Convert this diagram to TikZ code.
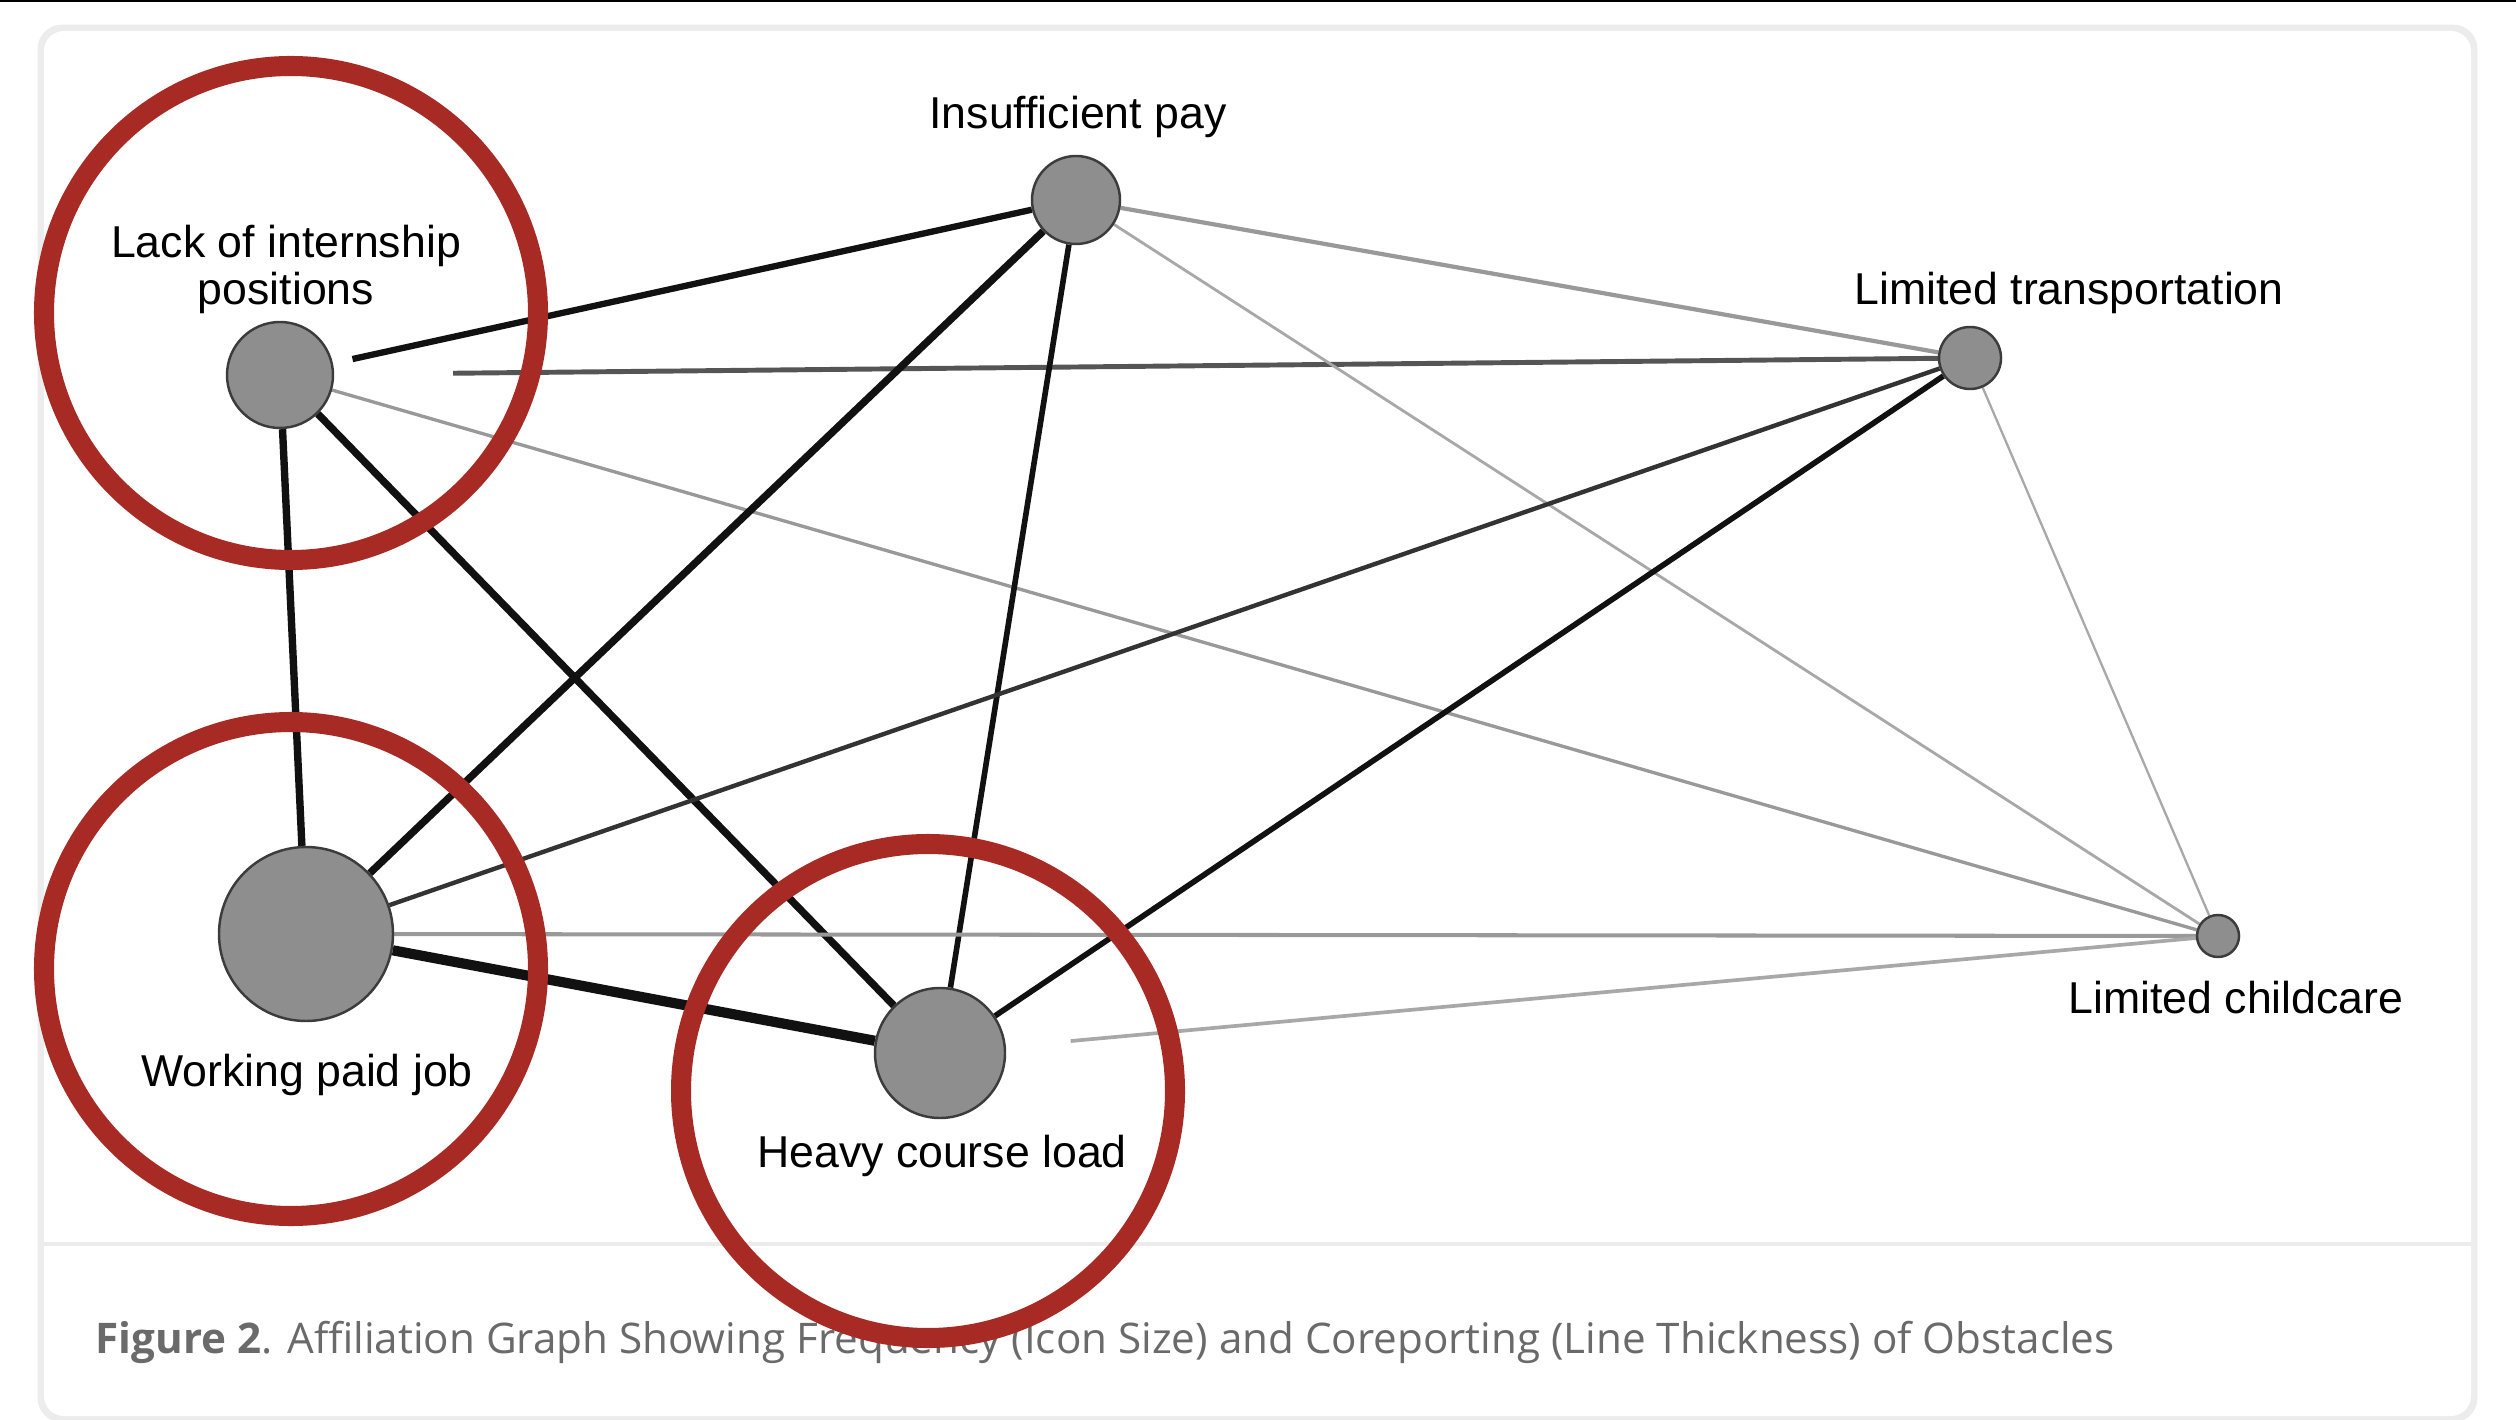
\documentclass[tikz,border=0pt]{standalone}
\usepackage{fontspec}
\setmainfont{Liberation Sans}
\newfontfamily\capfont{Open Sans}
\definecolor{nodegray}{HTML}{8E8E8E}
\definecolor{nodeedge}{HTML}{3C3C3C}
\definecolor{edgeblack}{HTML}{111111}
\definecolor{edgedark}{HTML}{555555}
\definecolor{edgemid}{HTML}{333333}
\definecolor{edgegray}{HTML}{999999}
\definecolor{edgelight}{HTML}{A8A8A8}
\definecolor{ringred}{HTML}{A82A25}
\definecolor{captiongray}{HTML}{6A6A6A}
\definecolor{cardline}{HTML}{ECECEC}
\pgfdeclarelayer{cardlayer}
\pgfdeclarelayer{edgelayer}
\pgfsetlayers{cardlayer,edgelayer,main}
\begin{document}
\begin{tikzpicture}[x=0.1mm,y=-0.1mm,
  obst/.style={circle, fill=nodegray, draw=nodeedge, line width=0.7pt, inner sep=0pt},
  lbl/.style={font=\fontsize{12.7}{13.6}\selectfont, inner sep=0pt, anchor=base, text=black, align=center},
  lnk/.style 2 args={draw=#1, line width=#2},
  ring/.style={draw=ringred, line width=5.7pt},
  captext/.style={font=\capfont\fontsize{12}{14}\selectfont, text=captiongray, inner sep=0pt, anchor=base west}
]
\useasboundingbox (0,0) rectangle (2516,1420);

% card and frame
\begin{pgfonlayer}{cardlayer}
  \fill[white] (0,0) rectangle (2516,1420);
  \draw[cardline, line width=2.5pt, rounded corners=2mm] (42,29) rectangle (2473,1418);
  \fill[white, rounded corners=2mm] (44,31) rectangle (2471,1416);
  \draw[cardline, line width=0.9pt] (44,1244) -- (2471,1244);
  \draw[black, line width=0.6pt] (0,1) -- (2516,1);
\end{pgfonlayer}

% obstacles
\node[obst, minimum size=10.6mm] (lack)  at (280,375) {};
\node[obst, minimum size=8.8mm]  (ins)   at (1076,200) {};
\node[obst, minimum size=6.2mm]  (trans) at (1970,358) {};
\node[obst, minimum size=17.4mm] (work)  at (306,934) {};
\node[obst, minimum size=13mm]   (heavy) at (940,1053) {};
\node[obst, minimum size=4.2mm]  (child) at (2218,936) {};

% labels
\node[lbl] (lacklbl)  at (286,305)  {Lack of internship\\positions};
\node[lbl] (inslbl)   at (1078,129) {Insufficient pay};
\node[lbl] (translbl) at (2069,305) {Limited transportation};
\node[lbl] (worklbl)  at (307,1086) {Working paid job};
\node[lbl] (heavylbl) at (942,1167) {Heavy course load};
\node[lbl] (childlbl) at (2236,1013) {Limited childcare};

% connectors
\begin{pgfonlayer}{edgelayer}
  \draw[lnk={edgeblack}{1.8pt}, shorten <=2mm] (lack) -- (ins);
  \draw[lnk={edgedark}{1.4pt}, shorten <=11.9mm] (lack) -- (trans);
  \draw[lnk={edgegray}{0.95pt}] (lack) -- (child);
  \draw[lnk={edgeblack}{2.1pt}] (lack) -- (work);
  \draw[lnk={edgeblack}{2.1pt}] (lack) -- (heavy);
  \draw[lnk={edgeblack}{2.1pt}] (ins) -- (work);
  \draw[lnk={edgeblack}{1.6pt}] (ins) -- (heavy);
  \draw[lnk={edgegray}{1.2pt}] (ins) -- (trans);
  \draw[lnk={edgelight}{0.8pt}] (ins) -- (child);
  \draw[lnk={edgemid}{1.25pt}] (trans) -- (work);
  \draw[lnk={edgeblack}{1.6pt}] (trans) -- (heavy);
  \draw[lnk={edgelight}{0.65pt}] (trans) -- (child);
  \draw[lnk={edgeblack}{2.9pt}] (work) -- (heavy);
  \draw[lnk={edgegray}{1.15pt}] (work) -- (child);
  \draw[lnk={edgelight}{1.05pt}, shorten <=6.5mm] (heavy) -- (child);
\end{pgfonlayer}

% caption
\node[captext] (caption) at (95,1353) {\textbf{Figure 2}. Affiliation Graph Showing Frequency (Icon Size) and Coreporting (Line Thickness) of Obstacles};

% red highlight rings
\draw[ring] (291,313) circle[radius=24.7mm];
\draw[ring] (291,969) circle[radius=24.7mm];
\draw[ring] (928,1091) circle[radius=24.7mm];
\end{tikzpicture}
\end{document}
